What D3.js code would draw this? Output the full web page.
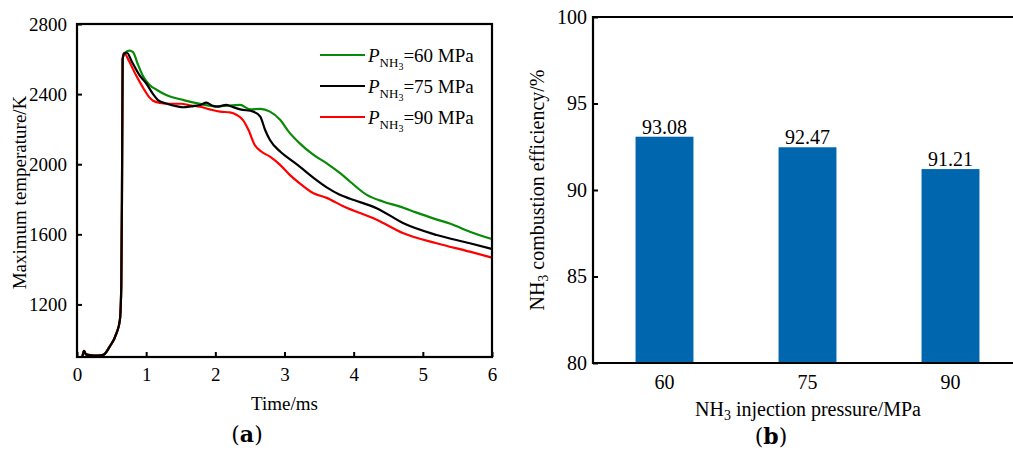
<!DOCTYPE html>
<html>
<head>
<meta charset="utf-8">
<script src="https://cdn.jsdelivr.net/npm/d3@7"></script>
<style>
  body { margin: 0; background: #fff; }
  svg text { font-family: "Liberation Serif", "Times New Roman", serif; fill: #000; }
  svg text.cap { font-family: "DejaVu Serif", serif; }
</style>
</head>
<body>
<script>
"use strict"
const W = 1013, H = 455;

// ---- panel (a): maximum temperature vs time ----
const t60 = [0.08, 0.1, 0.13, 0.2, 0.3, 0.38, 0.47, 0.57, 0.62, 0.64, 0.65, 0.66, 0.7, 0.76, 0.81, 0.88, 0.96, 1.05, 1.15, 1.29, 1.54, 1.78, 2.02, 2.2, 2.36, 2.5, 2.65, 2.79, 2.94, 3.06, 3.22, 3.42, 3.61, 3.8, 3.95, 4.19, 4.43, 4.67, 4.9, 5.15, 5.4, 5.68, 6.0];
const T60 = [905, 935, 915, 910, 908, 912, 958, 1035, 1111, 1300, 1800, 2600, 2638, 2648, 2640, 2570, 2499, 2452, 2425, 2395, 2366, 2344, 2330, 2335, 2338, 2313, 2316, 2300, 2252, 2186, 2119, 2053, 2005, 1950, 1900, 1825, 1786, 1758, 1725, 1691, 1660, 1615, 1573];

const t75 = [0.08, 0.1, 0.13, 0.2, 0.3, 0.38, 0.47, 0.57, 0.62, 0.64, 0.65, 0.66, 0.68, 0.72, 0.8, 0.9, 1.0, 1.1, 1.17, 1.3, 1.45, 1.54, 1.65, 1.78, 1.87, 1.95, 2.02, 2.16, 2.21, 2.36, 2.55, 2.65, 2.72, 2.79, 2.94, 3.08, 3.22, 3.42, 3.61, 3.8, 3.95, 4.34, 4.72, 5.2, 5.68, 6.0];
const T75 = [905, 935, 915, 910, 908, 912, 958, 1035, 1111, 1300, 1800, 2600, 2630, 2636, 2580, 2510, 2462, 2400, 2366, 2345, 2330, 2325, 2330, 2338, 2351, 2335, 2328, 2338, 2332, 2313, 2300, 2271, 2195, 2138, 2071, 2028, 1986, 1922, 1868, 1826, 1803, 1748, 1663, 1596, 1549, 1516];

const t90 = [0.08, 0.1, 0.13, 0.2, 0.3, 0.38, 0.47, 0.57, 0.62, 0.64, 0.65, 0.66, 0.68, 0.75, 0.85, 0.95, 1.05, 1.1, 1.2, 1.35, 1.5, 1.65, 1.78, 1.92, 2.07, 2.21, 2.31, 2.4, 2.48, 2.57, 2.67, 2.79, 2.94, 3.08, 3.22, 3.42, 3.61, 3.85, 4.34, 4.72, 5.2, 5.68, 6.0];
const T90 = [905, 935, 915, 910, 908, 912, 958, 1035, 1111, 1300, 1800, 2600, 2636, 2590, 2510, 2440, 2380, 2362, 2350, 2345, 2345, 2335, 2328, 2313, 2300, 2296, 2281, 2252, 2195, 2110, 2071, 2043, 1995, 1938, 1891, 1834, 1808, 1760, 1682, 1606, 1549, 1501, 1467];

const seriesNames = ["60", "75", "90"];
const seriesColors = ["#078a07", "#000000", "#ff0000"];
const timeTicks = [0, 1, 2, 3, 4, 5, 6];
const tempTicks = [1200, 1600, 2000, 2400, 2800];

// ---- panel (b): combustion efficiency ----
const pressures = ["60", "75", "90"];
const efficiency = [93.08, 92.47, 91.21];
const effTicks = [80, 85, 90, 95, 100];

const svg = d3.select("body").append("svg")
  .attr("width", W).attr("height", H);

// ---------- chart a ----------
const a = { l: 77, r: 492, t: 24, b: 357 };
const x = d3.scaleLinear().domain([0, 6]).range([a.l, a.r]);
const y = d3.scaleLinear().domain([900, 2800]).range([a.b, a.t]);

const gA = svg.append("g");

const xAxisA = d3.axisBottom(x).tickValues(timeTicks).tickFormat(d3.format("d"))
  .tickSizeInner(-5).tickSizeOuter(0).tickPadding(11);
const yAxisA = d3.axisLeft(y).tickValues(tempTicks).tickFormat(d3.format("d"))
  .tickSizeInner(-5).tickSizeOuter(0).tickPadding(10);

gA.append("g").attr("transform", `translate(0,${a.b})`).call(xAxisA);
gA.append("g").attr("transform", `translate(${a.l},0)`).call(yAxisA);
gA.selectAll(".domain").remove();
gA.selectAll(".tick line").attr("stroke", "#000").attr("stroke-width", 2);
gA.selectAll(".tick text").attr("font-size", 19);

const line = d3.line().x(d => x(d[0])).y(d => y(d[1])).curve(d3.curveMonotoneX);
const dataA = [d3.zip(t60, T60), d3.zip(t75, T75), d3.zip(t90, T90)];

// green, red, then black on top
[0, 2, 1].forEach(i => {
  gA.append("path")
    .datum(dataA[i])
    .attr("d", line)
    .attr("fill", "none")
    .attr("stroke", seriesColors[i])
    .attr("stroke-width", 2.2)
    .attr("stroke-linejoin", "round");
});

gA.append("rect")
  .attr("x", a.l).attr("y", a.t)
  .attr("width", a.r - a.l).attr("height", a.b - a.t)
  .attr("fill", "none").attr("stroke", "#000").attr("stroke-width", 2.2);

// legend
const legY = d3.scalePoint().domain(seriesNames).range([55, 117]);
seriesNames.forEach((n, i) => {
  const yy = legY(n);
  gA.append("line")
    .attr("x1", 320).attr("x2", 365).attr("y1", yy).attr("y2", yy)
    .attr("stroke", seriesColors[i]).attr("stroke-width", 2.2);
  const t = gA.append("text").attr("x", 368).attr("y", yy + 7)
    .attr("font-size", 19);
  t.append("tspan").attr("font-style", "italic").text("P");
  t.append("tspan").attr("font-size", 13).attr("dy", 5).text("NH");
  t.append("tspan").attr("font-size", 10).attr("dy", 3).text("3");
  t.append("tspan").attr("dy", -8).text("=" + n + " MPa");
});

// axis titles a
gA.append("text")
  .attr("x", (a.l + a.r) / 2).attr("y", 410)
  .attr("text-anchor", "middle").attr("font-size", 19)
  .text("Time/ms");
gA.append("text")
  .attr("transform", `translate(26,${(a.t + a.b) / 2 + 2}) rotate(-90)`)
  .attr("text-anchor", "middle").attr("font-size", 19)
  .text("Maximum temperature/K");

const capA = gA.append("text").attr("class", "cap")
  .attr("x", 247).attr("y", 442).attr("text-anchor", "middle")
  .attr("font-size", 22);
capA.append("tspan").text("(");
capA.append("tspan").attr("font-weight", "bold").text("a");
capA.append("tspan").text(")");

// ---------- chart b ----------
const b = { l: 593, r: 1022, t: 17, b: 363 };
const xb = d3.scaleBand().domain(pressures).range([b.l, b.r]).paddingInner(0.595).paddingOuter(0.2975);
const yb = d3.scaleLinear().domain([80, 100]).range([b.b, b.t]);

const gB = svg.append("g");

gB.selectAll("rect.bar")
  .data(efficiency)
  .enter().append("rect")
  .attr("class", "bar")
  .attr("x", (d, i) => xb(pressures[i]))
  .attr("y", d => yb(d))
  .attr("width", xb.bandwidth())
  .attr("height", d => yb(80) - yb(d))
  .attr("fill", "#0067ae");

gB.selectAll("text.val")
  .data(efficiency)
  .enter().append("text")
  .attr("class", "val")
  .attr("x", (d, i) => xb(pressures[i]) + xb.bandwidth() / 2)
  .attr("y", d => yb(d) - 3)
  .attr("text-anchor", "middle")
  .attr("font-size", 20)
  .text(d => d.toFixed(2));

const xAxisB = d3.axisBottom(xb).tickSize(0).tickPadding(12);
const yAxisB = d3.axisLeft(yb).tickValues(effTicks)
  .tickSizeInner(-5).tickSizeOuter(0).tickPadding(6);

gB.append("g").attr("transform", `translate(0,${b.b})`).call(xAxisB);
gB.append("g").attr("transform", `translate(${b.l},0)`).call(yAxisB);
gB.selectAll(".domain").remove();
gB.selectAll(".tick line").attr("stroke", "#000").attr("stroke-width", 2);
gB.selectAll(".tick text").attr("font-size", 20);

gB.append("path")
  .attr("d", `M${W + 5},${b.t}H${b.l}V${b.b}H${W + 5}`)
  .attr("fill", "none").attr("stroke", "#000").attr("stroke-width", 2.2);

const xtB = gB.append("text")
  .attr("x", 808).attr("y", 416)
  .attr("text-anchor", "middle").attr("font-size", 20);
xtB.append("tspan").text("NH");
xtB.append("tspan").attr("font-size", 14).attr("dy", 4).text("3");
xtB.append("tspan").attr("dy", -4).text(" injection pressure/MPa");

const ytB = gB.append("text")
  .attr("transform", `translate(544,${(b.t + b.b) / 2}) rotate(-90)`)
  .attr("text-anchor", "middle").attr("font-size", 20);
ytB.append("tspan").text("NH");
ytB.append("tspan").attr("font-size", 14).attr("dy", 4).text("3");
ytB.append("tspan").attr("dy", -4).text(" combustion efficiency/%");

const capB = gB.append("text").attr("class", "cap")
  .attr("x", 771).attr("y", 444).attr("text-anchor", "middle")
  .attr("font-size", 22);
capB.append("tspan").text("(");
capB.append("tspan").attr("font-weight", "bold").text("b");
capB.append("tspan").text(")");
</script>
</body>
</html>
